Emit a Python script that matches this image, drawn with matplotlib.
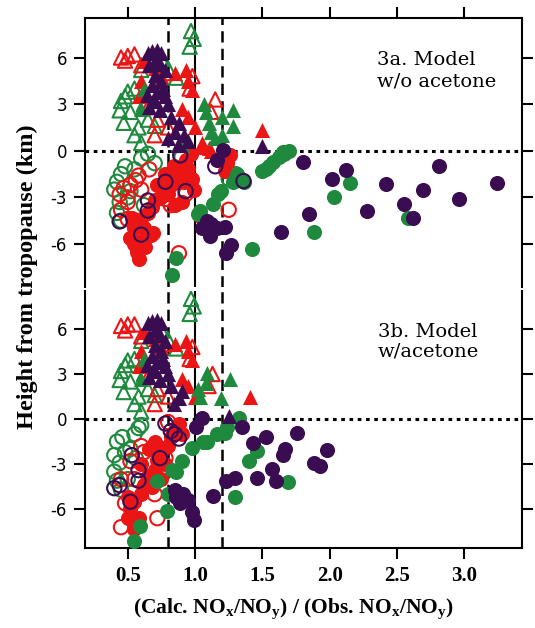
import matplotlib
matplotlib.use('Agg')
import matplotlib.pyplot as plt

RED = '#ec1515'
GREEN = '#1f8a3e'
PURPLE = '#3a0c52'

# ---------- panel 3a: model w/o acetone ----------
a_red_fc_x = [0.58, 0.57, 0.55, 0.52, 0.60, 0.62, 0.55, 0.53, 0.60, 0.65, 0.68, 0.70, 0.75, 0.80, 0.82,
              0.87, 0.90, 0.95, 0.98, 0.99, 0.85, 0.90, 0.78, 0.72, 0.69, 0.67, 1.04, 1.26, 1.24, 1.22,
              0.63, 0.58, 0.93, 0.97, 0.84, 0.92, 1.07]
a_red_fc_y = [-7.0, -6.5, -6.0, -5.6, -5.8, -5.0, -5.0, -4.3, -4.4, -4.0, -3.6, -3.2, -3.0, -2.8, -2.2,
              -1.8, -1.5, -1.2, -1.8, -2.5, -3.5, -3.3, -1.5, -2.2, -5.3, -5.4, -4.2, -0.3, -0.8, -1.3,
              -6.2, -4.8, -0.6, -0.2, -1.0, -2.0, -4.7]
a_red_oc_x = [0.44, 0.50, 0.52, 0.58, 0.45, 0.60, 0.78, 0.82, 0.93, 0.88, 1.25, 0.56, 0.50, 0.66, 0.47]
a_red_oc_y = [-2.8, -3.3, -2.2, -1.6, -3.8, -2.5, -3.1, -3.5, -2.8, -6.6, -3.8, -1.9, -4.4, -1.2, -2.4]
a_grn_oc_x = [0.48, 0.45, 0.42, 0.40, 0.44, 0.42, 0.45, 0.50, 0.52, 0.55, 0.60, 0.65, 0.70, 0.58, 1.25,
              1.30, 0.82, 0.90, 0.62]
a_grn_oc_y = [-1.0, -1.5, -2.0, -2.5, -3.3, -4.0, -4.5, -3.0, -2.6, -1.2, -0.5, -0.2, -0.8, -5.6, -1.8,
              -1.5, -2.1, -0.4, -3.5]
a_grn_fc_x = [1.65, 1.62, 1.58, 1.55, 1.50, 1.70, 1.66, 2.15, 2.03, 1.88, 1.42, 2.58, 1.31, 1.36, 1.17,
              1.13, 1.02, 1.04, 1.19, 0.86, 0.83, 1.28, 1.53]
a_grn_fc_y = [-0.1, -0.4, -0.7, -1.0, -1.3, 0.0, -0.2, -2.1, -3.0, -5.2, -6.3, -4.3, -1.5, -2.0, -2.8,
              -3.4, -4.1, -3.9, -2.6, -6.9, -8.0, -2.0, -1.2]
a_pur_fc_x = [1.80, 2.02, 2.12, 2.42, 2.69, 2.81, 2.96, 3.24, 2.55, 2.62, 2.28, 1.85, 1.64, 1.09, 1.16,
              1.22, 1.11, 1.27, 1.23, 1.21, 1.16, 1.05, 1.12]
a_pur_fc_y = [-0.7, -1.8, -1.25, -2.15, -2.5, -1.0, -3.1, -2.1, -3.4, -4.35, -3.9, -4.1, -5.2, -4.55, -5.0,
              -4.9, -5.5, -6.05, -6.6, 0.05, -0.6, -5.0, -4.7]
a_pur_oc_x = [1.15, 1.36, 0.44, 0.60, 0.65, 0.65, 0.93, 0.89, 0.78]
a_pur_oc_y = [-1.0, -1.95, -4.55, -5.4, -3.2, -3.85, -2.6, -0.3, -2.0]

a_red_ft_x = [0.62, 0.70, 0.75, 0.85, 0.93, 0.95, 0.98, 0.60, 0.58, 0.90, 0.95, 1.00, 1.05, 1.10, 1.495,
              1.12, 1.06]
a_red_ft_y = [5.8, 5.3, 4.8, 5.0, 5.2, 4.5, 3.9, 4.5, 3.5, 2.7, 2.2, 1.5, 0.5, 0.2, 1.35, 0.0, 0.26]
a_red_ot_x = [0.45, 0.50, 0.55, 0.48, 0.60, 0.78, 0.98, 0.96, 1.15, 1.12, 0.80, 0.72, 0.65, 0.70]
a_red_ot_y = [6.0, 6.1, 6.2, 5.8, 5.5, 5.0, 4.8, 4.0, 3.3, 2.5, 1.5, 2.0, 2.8, 1.0]
a_grn_ot_x = [0.97, 0.99, 0.96, 0.45, 0.48, 0.50, 0.52, 0.44, 0.47, 0.55, 0.60, 0.58, 0.65, 0.70, 0.62,
              0.75, 0.80, 0.86, 0.60, 0.55]
a_grn_ot_y = [7.7, 7.2, 6.7, 3.2, 3.5, 3.8, 2.5, 2.6, 1.8, 1.0, 0.5, 1.5, 2.0, 1.6, 3.0,
              5.9, 5.3, 4.7, 5.2, 4.0]
a_grn_ft_x = [1.07, 1.08, 1.10, 1.12, 1.15, 1.20, 1.28, 1.28, 1.20, 0.90, 0.62, 0.60]
a_grn_ft_y = [3.0, 2.5, 1.8, 1.2, 0.8, 1.0, 2.6, 1.6, 2.2, 0.4, 4.0, 2.7]
a_pur_ft_x = [0.65, 0.68, 0.72, 0.75, 0.70, 0.66, 0.74, 0.78, 0.70, 0.75, 0.68, 0.72, 0.78, 0.70, 0.66,
              0.74, 0.80, 0.82, 0.88, 0.85, 0.92, 0.95, 0.87, 0.80, 0.76, 0.64, 1.50]
a_pur_ft_y = [6.3, 6.4, 6.5, 6.3, 5.8, 5.5, 5.6, 5.2, 4.9, 4.5, 4.2, 3.8, 3.5, 3.2, 2.8,
              2.6, 3.0, 2.2, 1.8, 1.2, 1.0, 0.6, 0.4, 0.8, 4.0, 3.6, 0.3]

# ---------- panel 3b: model w/acetone ----------
b_red_fc_x = [0.50, 0.52, 0.55, 0.60, 0.62, 0.65, 0.70, 0.72, 0.75, 0.80, 0.82, 0.85, 0.88, 0.68, 0.58,
              0.55, 0.60, 0.66, 0.90, 0.75, 0.50, 0.78, 0.70]
b_red_fc_y = [-6.6, -6.0, -5.5, -5.0, -4.4, -3.8, -3.4, -2.7, -2.2, -1.8, -1.2, -0.7, -0.3, -4.5, -6.6,
              -7.3, -3.0, -2.0, -1.0, -4.0, -5.2, -3.0, -1.5]
b_red_oc_x = [0.45, 0.48, 0.55, 0.52, 0.60, 0.72, 0.70, 0.78, 0.62, 0.45, 0.80]
b_red_oc_y = [-7.2, -5.6, -4.0, -2.8, -1.8, -6.6, -5.0, -2.6, -2.2, -4.0, -0.2]
b_grn_oc_x = [0.42, 0.46, 0.40, 0.44, 0.40, 0.42, 0.45, 0.48, 0.52, 0.58, 0.55, 0.60, 0.50, 0.56]
b_grn_oc_y = [-1.5, -1.2, -2.4, -2.9, -3.5, -4.1, -4.7, -2.2, -2.0, -0.6, -1.0, -0.4, -4.0, -2.6]
b_grn_fc_x = [0.72, 0.80, 0.79, 0.59, 0.55, 0.90, 0.86, 0.98, 1.06, 1.16, 1.24, 1.33, 1.40, 1.30, 1.69,
              1.46, 0.83, 1.22, 1.09]
b_grn_fc_y = [-4.1, -5.0, -6.1, -7.1, -8.1, -2.8, -3.5, -1.9, -1.55, -1.0, -0.55, 0.1, -2.8, -5.2, -4.2,
              -2.1, -3.4, -0.9, -1.5]
b_pur_fc_x = [1.35, 1.53, 1.76, 1.43, 1.67, 1.65, 1.98, 1.88, 1.93, 1.57, 1.60, 1.46, 1.30, 1.13, 1.01,
              1.05, 0.85, 0.91, 0.95, 0.89, 0.98, 0.99, 0.86, 1.23]
b_pur_fc_y = [-0.55, -1.2, -0.9, -1.6, -2.0, -2.4, -2.05, -2.9, -3.1, -3.3, -4.1, -3.9, -3.9, -5.1, -0.55,
              0.1, -4.75, -5.0, -5.4, -5.6, -6.2, -6.7, -5.2, -4.1]
b_pur_oc_x = [0.44, 0.52, 0.58, 0.58, 0.53, 0.74, 0.78, 0.85, 0.88, 0.82, 0.40]
b_pur_oc_y = [-4.4, -5.5, -3.4, -4.1, -2.4, -2.6, -0.3, -1.0, -1.3, -0.8, -4.6]

b_red_ft_x = [0.62, 0.70, 0.75, 0.85, 0.93, 0.95, 0.98, 0.60, 0.58, 0.90, 0.95, 1.00, 1.41]
b_red_ft_y = [5.8, 5.3, 4.8, 5.0, 5.2, 4.5, 3.9, 4.5, 3.5, 2.7, 2.2, 1.5, 1.45]
b_red_ot_x = [0.45, 0.50, 0.55, 0.48, 0.60, 0.78, 0.98, 0.96, 1.13, 1.10, 0.80, 0.72, 0.65, 0.70]
b_red_ot_y = [6.2, 6.3, 6.3, 5.9, 5.5, 5.0, 4.8, 4.0, 3.0, 2.2, 1.5, 2.0, 2.8, 1.0]
b_grn_ot_x = [0.97, 0.99, 0.96, 0.45, 0.48, 0.50, 0.52, 0.44, 0.47, 0.55, 0.60, 0.58, 0.65, 0.70, 0.62,
              0.75, 0.80, 0.86, 0.60, 0.55]
b_grn_ot_y = [8.0, 7.5, 7.0, 3.2, 3.6, 3.9, 2.5, 2.6, 1.8, 1.0, 0.5, 1.5, 2.0, 1.6, 3.0,
              5.9, 5.3, 4.7, 5.2, 4.0]
b_grn_ft_x = [1.09, 1.04, 1.19, 1.26, 1.08, 1.02, 0.62, 0.60]
b_grn_ft_y = [3.1, 1.44, 1.4, 2.65, 2.4, 2.0, 4.0, 2.7]
b_pur_ft_x = [0.65, 0.68, 0.72, 0.75, 0.70, 0.66, 0.74, 0.78, 0.70, 0.75, 0.68, 0.72, 0.78, 0.70, 0.66,
              0.74, 0.80, 0.82, 0.90, 0.84, 0.88, 0.76, 0.64, 1.25]
b_pur_ft_y = [6.4, 6.5, 6.6, 6.4, 5.9, 5.5, 5.6, 5.2, 4.9, 4.5, 4.2, 3.8, 3.5, 3.2, 2.8,
              2.6, 3.0, 2.2, 1.9, 1.0, 1.4, 4.0, 3.6, 0.2]

xticks = [0.5, 1.0, 1.5, 2.0, 2.5, 3.0]
yticks = [-6, -3, 0, 3, 6]

plt.rcParams['mathtext.fontset'] = 'custom'
plt.rcParams['mathtext.rm'] = 'Liberation Serif:bold'

S = 118


def filled(ax, x, y, marker, color):
    ax.scatter(x, y, s=S, marker=marker, color=color, linewidths=0, zorder=3)


def opened(ax, x, y, marker, color):
    ax.scatter(x, y, s=S * 0.9, marker=marker, facecolors='none', edgecolors=color,
               linewidths=1.5, zorder=3)


def setup(ax, ylim):
    ax.set_xlim(0.183, 3.43)
    ax.set_ylim(ylim)
    ax.axvline(1.0, color='black', lw=1.5, zorder=2)
    ax.axvline(0.8, color='black', lw=1.8, ls=(0, (4.5, 2.5)), zorder=2)
    ax.axvline(1.2, color='black', lw=1.8, ls=(0, (4.5, 2.5)), zorder=2)
    ax.axhline(0, color='black', lw=2.2, ls=(0, (1.2, 1.5)), zorder=2)
    ax.set_yticks(yticks)
    ax.set_yticklabels([str(v) for v in yticks], fontfamily='DejaVu Sans', fontsize=12)
    ax.set_xticks(xticks)
    ax.tick_params(direction='out', length=8, width=1.5, left=True, right=True)
    ax.tick_params(axis='y', pad=5)
    for sp in ax.spines.values():
        sp.set_linewidth(1.5)


def drawPanel(ax, d):
    opened(ax, d['grn_oc_x'], d['grn_oc_y'], 'o', GREEN)
    opened(ax, d['grn_ot_x'], d['grn_ot_y'], '^', GREEN)
    filled(ax, d['red_fc_x'], d['red_fc_y'], 'o', RED)
    opened(ax, d['red_oc_x'], d['red_oc_y'], 'o', RED)
    opened(ax, d['red_ot_x'], d['red_ot_y'], '^', RED)
    filled(ax, d['red_ft_x'], d['red_ft_y'], '^', RED)
    filled(ax, d['grn_fc_x'], d['grn_fc_y'], 'o', GREEN)
    filled(ax, d['grn_ft_x'], d['grn_ft_y'], '^', GREEN)
    filled(ax, d['pur_fc_x'], d['pur_fc_y'], 'o', PURPLE)
    filled(ax, d['pur_ft_x'], d['pur_ft_y'], '^', PURPLE)
    opened(ax, d['pur_oc_x'], d['pur_oc_y'], 'o', PURPLE)


def collect(prefix):
    g = globals()
    return {k[len(prefix):]: v for k, v in g.items() if k.startswith(prefix)}


fig = plt.figure(figsize=(5.35, 6.28), dpi=100)
ax1 = fig.add_axes([0.159, 0.543, 0.817, 0.428])
ax2 = fig.add_axes([0.159, 0.127, 0.817, 0.409])

setup(ax1, (-8.77, 8.53))
drawPanel(ax1, collect('a_'))
ax1.spines['bottom'].set_visible(False)
ax1.tick_params(bottom=False, labelbottom=False, top=True, labeltop=False)

setup(ax2, (-8.6, 8.5))
drawPanel(ax2, collect('b_'))
ax2.spines['top'].set_visible(False)
ax2.set_xticklabels(['%.1f' % v for v in xticks], fontfamily='Liberation Serif',
                    fontweight='bold', fontsize=15)
ax2.tick_params(axis='x', pad=5)

fig.text(0.705, 0.919, '3a. Model\nw/o acetone', fontfamily='DejaVu Serif',
         fontsize=14, va='top', ha='left', linespacing=1.25)
fig.text(0.706, 0.486, '3b. Model\nw/acetone', fontfamily='DejaVu Serif',
         fontsize=14, va='top', ha='left', linespacing=1.15)

fig.text(0.548, 0.029, r'(Calc. NO$_\mathrm{x}$/NO$_\mathrm{y}$) / (Obs. NO$_\mathrm{x}$/NO$_\mathrm{y}$)',
         ha='center', va='center', fontfamily='Liberation Serif', fontweight='bold', fontsize=15.5)
fig.text(0.052, 0.56, 'Height from tropopause (km)', rotation=90, ha='center', va='center',
         fontfamily='Liberation Serif', fontweight='bold', fontsize=17.5)

fig.savefig('out.png', dpi=100)
